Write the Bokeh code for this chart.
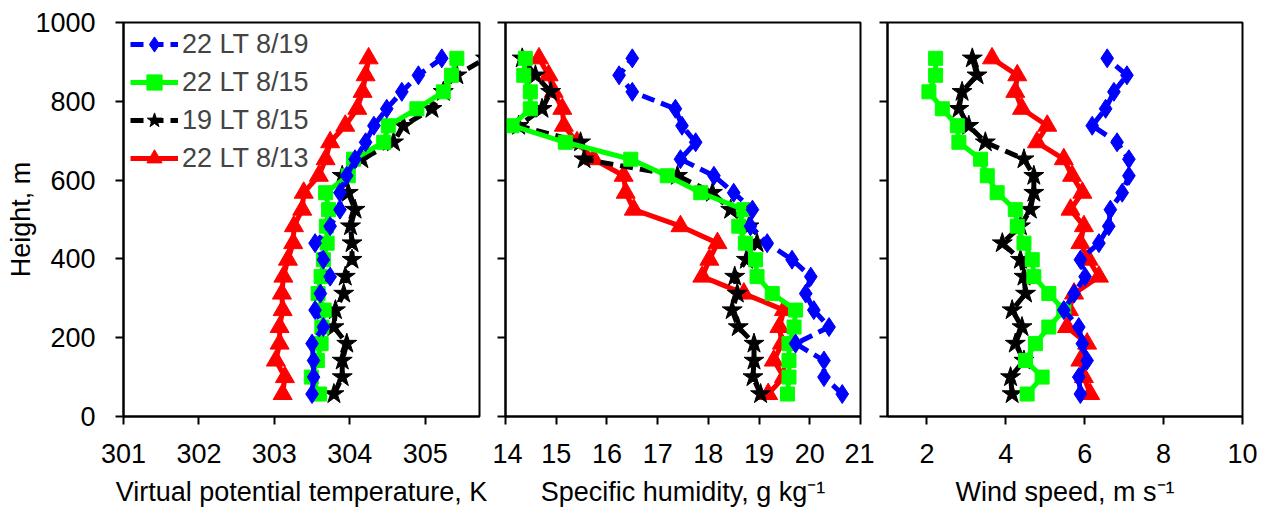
from bokeh.plotting import figure
from bokeh.layouts import row
from bokeh.models import Range1d, FixedTicker, Legend, LegendItem
from bokeh.embed import file_html
from bokeh.resources import INLINE

# ---------------- data ----------------
heights = [57, 100, 142, 185, 227, 270, 312, 355, 398, 440, 483, 525,
           568, 611, 653, 696, 738, 781, 824, 866, 909]

series_names = ["22 LT 8/19", "22 LT 8/15", "19 LT 8/15", "22 LT 8/13"]

# Virtual potential temperature, K
theta_819 = [303.50, 303.52, 303.52, 303.50, 303.65, 303.54, 303.61, 303.74, 303.65, 303.54, 303.74,
             303.87, 303.87, 303.96, 304.07, 304.21, 304.32, 304.49, 304.69, 304.91, 305.22]
theta_815_22 = [303.60, 303.49, 303.57, 303.62, 303.63, 303.66, 303.58, 303.62, 303.65, 303.70, 303.69,
                303.72, 303.68, 303.98, 304.05, 304.45, 304.51, 304.89, 305.24, 305.35, 305.42]
theta_815_19 = [303.79, 303.90, 303.90, 303.96, 303.79, 303.81, 303.92, 303.94, 304.03, 304.03, 304.01,
                304.07, 303.98, 303.90, 304.16, 304.58, 304.71, 305.09, 305.24, 305.42, 305.80]
theta_813 = [303.11, 303.14, 303.02, 303.07, 303.07, 303.11, 303.10, 303.12, 303.18, 303.25, 303.26,
             303.37, 303.39, 303.59, 303.68, 303.74, 303.94, 304.10, 304.17, 304.21, 304.25]

# Specific humidity, g/kg
q_819 = [20.64, 20.28, 20.28, 19.72, 20.38, 20.08, 19.92, 20.02, 19.65, 19.16, 18.83,
         18.87, 18.50, 18.11, 17.45, 17.75, 17.48, 17.35, 16.50, 16.24, 16.50]
q_815_22 = [19.56, 19.59, 19.59, 19.59, 19.69, 19.72, 19.26, 18.96, 18.93, 18.73, 18.60,
            18.70, 17.85, 17.19, 16.47, 15.18, 14.13, 14.49, 14.49, 14.36, 14.39]
q_815_19 = [19.03, 18.88, 18.90, 18.90, 18.59, 18.47, 18.57, 18.52, 18.75, 18.96, 18.80,
            18.44, 18.08, 17.39, 15.55, 15.48, 14.26, 14.72, 14.89, 14.59, 14.33]
q_813 = [19.18, 19.49, 19.29, 19.45, 19.40, 19.49, 18.70, 17.88, 18.02, 18.18, 17.45,
         16.53, 16.37, 16.33, 15.74, 15.41, 15.15, 15.12, 14.95, 14.85, 14.66]

# Wind speed, m/s
ws_819 = [5.89, 5.85, 6.06, 5.94, 5.85, 5.47, 5.73, 6.01, 5.89, 6.36, 6.61,
          6.65, 6.95, 7.12, 7.12, 6.82, 6.19, 6.53, 6.74, 7.07, 6.57]
ws_815_22 = [4.54, 4.92, 4.50, 4.75, 5.09, 5.47, 5.09, 4.71, 4.67, 4.46, 4.29,
             4.24, 3.78, 3.53, 3.36, 2.81, 2.77, 2.39, 2.05, 2.22, 2.22]
ws_815_19 = [4.16, 4.12, 4.46, 4.24, 4.41, 4.16, 4.50, 4.46, 4.37, 3.91, 4.37,
             4.62, 4.71, 4.71, 4.46, 3.48, 3.06, 2.81, 2.89, 3.27, 3.15]
ws_813 = [6.14, 5.98, 5.89, 6.06, 5.55, 5.60, 5.73, 6.36, 6.10, 5.89, 5.98,
          5.64, 5.94, 5.68, 5.47, 4.79, 5.05, 4.41, 4.24, 4.29, 3.65]

y_ticks = [0, 200, 400, 600, 800, 1000]
theta_ticks = [301, 302, 303, 304, 305]
q_ticks = [14, 15, 16, 17, 18, 19, 20, 21]
ws_ticks = [2, 4, 6, 8, 10]

# ---------------- styles ----------------
FONT = "Liberation Sans"
FS = "27px"
styles = {
    "22 LT 8/19": dict(color="#0000FF", marker="diamond", size=19, dash="13 7"),
    "22 LT 8/15": dict(color="#00FF00", marker="square", size=14, dash="solid"),
    "19 LT 8/15": dict(color="#000000", marker="star", size=21, dash="13 7"),
    "22 LT 8/13": dict(color="#FF0000", marker="triangle", size=19, dash="solid"),
}
draw_order = ["22 LT 8/13", "19 LT 8/15", "22 LT 8/15", "22 LT 8/19"]


def make_panel(xr, xticks, xlabel, values, left, right, first):
    p = figure(frame_width=xr[2], frame_height=394,
               x_range=Range1d(xr[0], xr[1]), y_range=Range1d(0, 1000),
               output_backend="svg", toolbar_location=None, title=None,
               min_border_left=left, min_border_right=right,
               min_border_top=22, min_border_bottom=98)
    p.outline_line_color = "black"
    p.outline_line_width = 2
    p.grid.visible = False
    p.background_fill_color = "white"
    p.border_fill_color = "white"
    for ax in (p.xaxis[0], p.yaxis[0]):
        ax.axis_line_width = 2
        ax.axis_line_color = "black"
        ax.major_tick_out = 8
        ax.major_tick_in = 0
        ax.major_tick_line_width = 2
        ax.major_tick_line_color = "black"
        ax.minor_tick_line_color = None
        ax.major_label_text_font = FONT
        ax.major_label_text_font_size = FS
        ax.major_label_text_color = "black"
        ax.axis_label_text_font = FONT
        ax.axis_label_text_font_size = FS
        ax.axis_label_text_font_style = "normal"
        ax.axis_label_text_color = "black"
    p.xaxis.ticker = FixedTicker(ticks=xticks)
    p.yaxis.ticker = FixedTicker(ticks=y_ticks)
    p.xaxis.axis_label = xlabel
    p.xaxis.major_label_standoff = 19
    p.xaxis.axis_label_standoff = 11
    if first:
        p.yaxis.axis_label = "Height, m"
        p.yaxis.major_label_standoff = 20
        p.yaxis.axis_label_standoff = -4
    else:
        p.yaxis.major_label_overrides = {t: "" for t in y_ticks}
        p.yaxis.major_label_standoff = 0

    rends = {}
    for name in draw_order:
        st = styles[name]
        xs = values[name]
        lr = p.line(xs, heights, line_color=st["color"], line_width=5,
                    line_dash=st["dash"])
        sr = p.scatter(xs, heights, marker=st["marker"], size=st["size"],
                       fill_color=st["color"], line_color=st["color"])
        rends[name] = [lr, sr]
    return p, rends


p1, r1 = make_panel((301, 305.72, 356), theta_ticks, "Virtual potential temperature, K",
                    {"22 LT 8/19": theta_819, "22 LT 8/15": theta_815_22,
                     "19 LT 8/15": theta_815_19, "22 LT 8/13": theta_813},
                    123, 13, True)
p2, r2 = make_panel((14, 21, 355), q_ticks, "Specific humidity, g kg\u207b\u00b9",
                    {"22 LT 8/19": q_819, "22 LT 8/15": q_815_22,
                     "19 LT 8/15": q_815_19, "22 LT 8/13": q_813},
                    13, 14, False)
p3, r3 = make_panel((1, 10, 355), ws_ticks, "Wind speed, m s\u207b\u00b9",
                    {"22 LT 8/19": ws_819, "22 LT 8/15": ws_815_22,
                     "19 LT 8/15": ws_815_19, "22 LT 8/13": ws_813},
                    13, 22, False)

legend = Legend(items=[LegendItem(label=n, renderers=r1[n]) for n in series_names],
                location=(7, 239), margin=0, padding=0, spacing=0,
                glyph_width=48, glyph_height=38, label_standoff=4,
                label_text_font=FONT, label_text_font_size=FS,
                border_line_color=None, background_fill_alpha=0)
p1.add_layout(legend)

layout = row(p1, p2, p3, spacing=0)
open("out.html", "w").write(file_html(layout, INLINE))
